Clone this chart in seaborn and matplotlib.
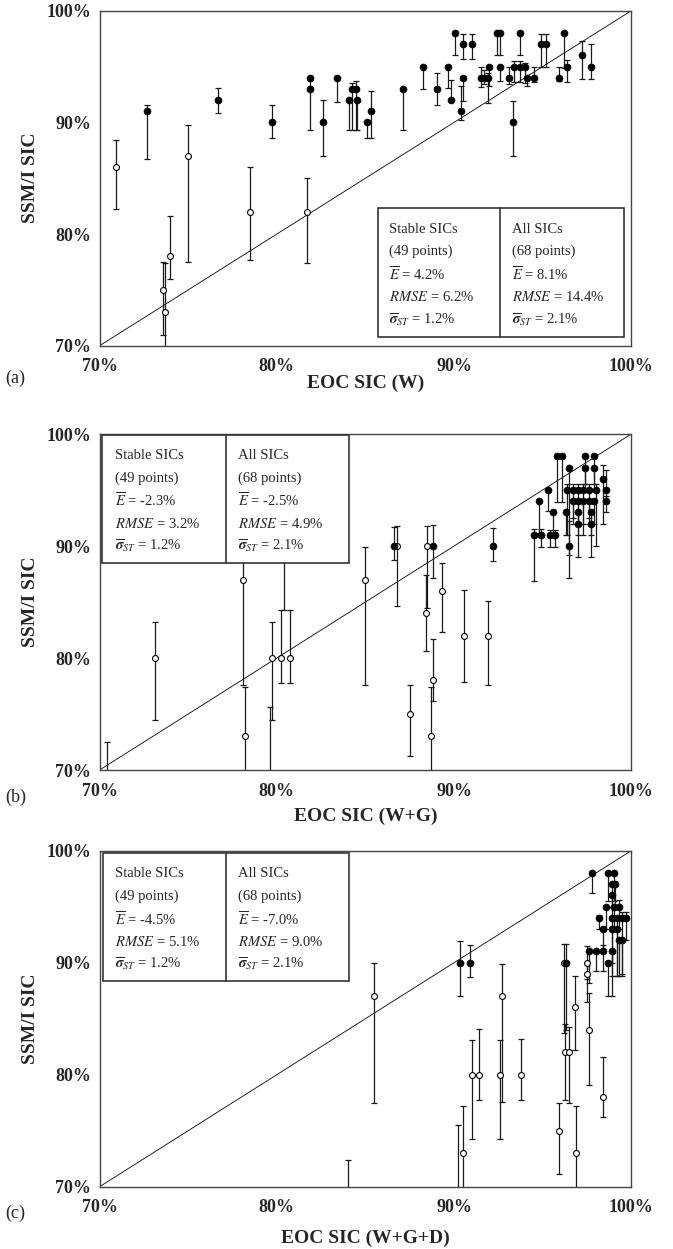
import matplotlib
matplotlib.use("Agg")
import matplotlib.pyplot as plt
from matplotlib.patches import Rectangle
import seaborn as sns
import pandas as pd

# ---- panel (a) : EOC SIC (W) ----
# stable SICs (filled): x, y, lower end of bar, upper end of bar
a_stable_x = [72.7, 76.7, 79.7, 81.9, 81.9, 82.6, 83.4, 84.05, 84.25, 84.45, 84.55, 85.1, 85.3, 87.1,
              88.25, 89.05, 89.65, 89.8, 90.05, 90.4, 90.5, 91.0, 90.5, 91.5, 91.7, 91.9, 92.0, 92.4,
              92.6, 92.6, 93.1, 93.3, 93.4, 93.7, 94.0, 93.7, 94.1, 94.5, 94.9, 95.2, 95.9, 96.2,
              96.4, 97.2, 97.7]
a_stable_y = [91, 92, 90, 93, 94, 90, 94, 92, 93, 93, 92, 90, 91, 93,
              95, 93, 95, 92, 98, 91, 97, 97, 94, 94, 94, 94, 95, 98,
              98, 95, 94, 90, 95, 95, 95, 98, 94, 94, 97, 97, 94, 98,
              95, 96, 95]
a_stable_lo = [86.7, 90.8, 88.6, 89.3, 93.0, 87.0, 91.8, 89.3, 89.3, 89.3, 89.3, 88.6, 88.6, 89.3,
               93.0, 91.6, 93.1, 92.0, 96.0, 90.2, 95.7, 95.7, 91.9, 93.2, 93.4, 91.7, 93.3, 96.0,
               96.0, 93.7, 93.4, 87.0, 93.6, 93.6, 93.5, 96.0, 93.3, 93.6, 95.0, 95.0, 93.7, 94.9,
               93.6, 93.9, 93.9]
a_stable_hi = [91.6, 93.1, 91.6, 93.0, 94.0, 92.0, 94.0, 92.0, 93.5, 93.7, 92.0, 90.0, 92.8, 93.0,
               95.0, 94.4, 95.0, 93.8, 98.0, 93.3, 97.9, 97.9, 94.0, 95.0, 94.7, 94.4, 95.0, 98.0,
               98.0, 95.0, 95.0, 91.9, 95.5, 95.5, 95.3, 98.0, 94.0, 95.0, 97.9, 97.9, 95.0, 98.0,
               95.6, 97.3, 97.0]
# other SICs (open)
a_other_x = [70.9, 75.0, 78.5, 81.7, 74.0, 73.6, 73.7]
a_other_y = [86, 87, 82, 82, 78, 75, 73]
a_other_lo = [82.2, 77.5, 77.7, 77.4, 76.0, 71.0, 66.0]
a_other_hi = [88.4, 89.8, 86.0, 85.0, 81.6, 77.5, 77.4]

# ---- panel (b) : EOC SIC (W+G) ----
b_stable_x = [86.6, 88.8, 92.2, 94.5, 94.9, 95.4, 95.7, 94.8, 95.3, 95.6, 95.8, 96.1, 96.5,
              96.5, 96.4, 96.7, 97.0, 97.3, 97.6, 98.0, 96.7, 97.0, 97.3, 97.6, 97.9, 96.3,
              97.0, 97.7, 97.0, 97.7, 97.4, 97.9, 97.4, 97.9, 98.4, 98.6, 98.6]
b_stable_y = [90, 90, 90, 91, 91, 91, 91, 94, 95, 93, 98, 98, 97,
              90, 95, 95, 95, 95, 95, 95, 94, 94, 94, 94, 94, 93,
              93, 93, 92, 92, 98, 98, 97, 97, 96, 95, 94]
b_stable_lo = [88.75, 87.1, 88.7, 86.9, 89.9, 89.9, 89.9, 91.2, 93.1, 91.0, 93.9, 93.9, 89.2,
               87.1, 91.0, 92.5, 92.0, 91.0, 92.5, 90.0, 92.0, 92.0, 92.0, 92.0, 92.0, 91.0,
               91.0, 91.0, 89.0, 89.0, 95.5, 95.5, 95.0, 95.0, 92.0, 94.0, 93.0]
b_stable_hi = [91.7, 91.9, 91.6, 91.5, 91.5, 91.4, 91.4, 94.0, 95.0, 93.0, 98.0, 98.0, 97.0,
               92.2, 95.5, 95.5, 95.5, 95.5, 95.5, 95.5, 94.0, 94.0, 94.0, 94.0, 94.0, 93.0,
               93.0, 93.0, 92.0, 92.0, 98.0, 98.0, 97.0, 97.0, 97.2, 96.8, 94.5]
b_other_x = [86.8, 88.5, 78.1, 85.0, 88.4, 89.3, 90.55, 91.9, 73.1, 79.7, 80.25, 80.75,
             78.2, 87.5, 88.7, 88.8, 80.4, 70.4, 79.6]
b_other_y = [90, 90, 87, 87, 84, 86, 82, 82, 80, 80, 80, 80,
             73, 75, 73, 78, 94, 65, 65]
b_other_lo = [84.6, 84.5, 77.6, 77.6, 80.6, 82.3, 77.9, 77.6, 74.5, 74.5, 77.8, 77.8,
              66.0, 71.25, 66.0, 76.2, 84.3, 60.0, 60.0]
b_other_hi = [91.8, 91.8, 89.0, 89.9, 87.4, 88.5, 86.1, 85.1, 83.2, 83.2, 84.3, 84.3,
              77.4, 77.6, 77.4, 81.7, 94.0, 72.5, 75.6]

# ---- panel (c) : EOC SIC (W+G+D) ----
c_stable_x = [90.35, 90.9, 96.3, 97.8, 98.7, 99.0, 98.9, 99.1, 98.9, 98.6, 99.0, 99.3, 98.2,
              98.4, 98.9, 99.2, 99.5, 99.7, 98.9, 99.2, 99.5, 99.3, 97.6, 98.0, 98.4, 98.9, 98.7]
c_stable_y = [90, 90, 90, 98, 98, 98, 97, 97, 96, 95, 95, 95, 94,
              93, 94, 94, 94, 94, 93, 93, 92, 92, 91, 91, 91, 91, 90]
c_stable_lo = [87.05, 88.7, 84.0, 96.2, 95.5, 95.5, 95.0, 95.0, 94.0, 93.0, 93.0, 93.0, 93.0,
               91.0, 88.8, 88.8, 89.0, 92.0, 90.0, 88.8, 88.8, 88.8, 88.2, 89.3, 89.3, 87.05, 87.0]
c_stable_hi = [91.9, 91.6, 91.7, 98.0, 98.0, 98.0, 97.0, 97.0, 96.0, 95.0, 95.0, 95.6, 94.3,
               93.0, 94.0, 94.0, 94.5, 94.5, 93.0, 93.0, 92.0, 92.0, 91.0, 91.0, 91.6, 91.0, 90.0]
c_other_x = [85.5, 92.7, 96.2, 97.5, 97.5, 96.8, 97.6, 91.0, 91.4, 92.6, 93.75, 90.5,
             95.9, 96.25, 96.5, 96.9, 98.4, 84.0, 90.2]
c_other_y = [87, 87, 90, 90, 89, 86, 84, 80, 80, 80, 80, 73,
             75, 82, 82, 73, 78, 65, 65]
c_other_lo = [77.5, 77.6, 83.7, 88.5, 86.5, 82.2, 79.1, 74.3, 77.7, 74.3, 77.7, 66.0,
              71.1, 77.7, 77.5, 66.0, 76.2, 60.0, 60.0]
c_other_hi = [90.0, 89.9, 91.7, 91.5, 90.0, 88.8, 87.3, 83.1, 84.1, 83.1, 83.2, 77.2,
              77.45, 84.5, 84.3, 77.2, 81.6, 72.4, 75.5]

ticks = [70, 80, 90, 100]
tick_labels = ["70%", "80%", "90%", "100%"]
x_labels = ["EOC SIC (W)", "EOC SIC (W+G)", "EOC SIC (W+G+D)"]
panel_tags = ["(a)", "(b)", "(c)"]
stable_stats = [("4.2%", "6.2%", "1.2%"), ("-2.3%", "3.2%", "1.2%"), ("-4.5%", "5.1%", "1.2%")]
all_stats = [("8.1%", "14.4%", "2.1%"), ("-2.5%", "4.9%", "2.1%"), ("-7.0%", "9.0%", "2.1%")]

sns.set_style("white")
plt.rcParams['font.family'] = ['Liberation Serif', 'DejaVu Serif']
plt.rcParams['mathtext.fontset'] = 'stix'

fig = plt.figure(figsize=(6.73, 12.49), dpi=100)

# axes boxes [left, bottom, width, height] in figure fraction
boxes = [[0.148, 0.7232, 0.79, 0.2682],
         [0.148, 0.3835, 0.79, 0.2690],
         [0.148, 0.0499, 0.79, 0.2690]]
# stats table: x0, divider, x1, y0, y1, text columns, text rows (axes fraction)
tables = [
    (0.523, 0.753, 0.987, 0.027, 0.410, 0.544, 0.776, [0.348, 0.281, 0.213, 0.145, 0.079]),
    (0.005, 0.238, 0.470, 0.615, 0.997, 0.029, 0.261, [0.935, 0.868, 0.801, 0.732, 0.667]),
    (0.006, 0.238, 0.470, 0.613, 0.994, 0.029, 0.261, [0.933, 0.865, 0.796, 0.729, 0.665]),
]
xlabel_offsets = [-0.085, -0.113, -0.128]
tag_y = [378, 797, 1213]

data = [
    (a_stable_x, a_stable_y, a_stable_lo, a_stable_hi, a_other_x, a_other_y, a_other_lo, a_other_hi),
    (b_stable_x, b_stable_y, b_stable_lo, b_stable_hi, b_other_x, b_other_y, b_other_lo, b_other_hi),
    (c_stable_x, c_stable_y, c_stable_lo, c_stable_hi, c_other_x, c_other_y, c_other_lo, c_other_hi),
]

for i, (sx, sy, slo, shi, ox, oy, olo, ohi) in enumerate(data):
    ax = fig.add_axes(boxes[i])
    df_s = pd.DataFrame({'x': sx, 'y': sy, 'lo': slo, 'hi': shi})
    df_o = pd.DataFrame({'x': ox, 'y': oy, 'lo': olo, 'hi': ohi})

    # one-sided / asymmetric error bars
    for df in (df_o, df_s):
        err = [(df['y'] - df['lo']).clip(lower=0), (df['hi'] - df['y']).clip(lower=0)]
        ax.errorbar(df['x'], df['y'], yerr=err, fmt='none', ecolor='#1a1a1a',
                    elinewidth=0.9, capsize=2.2, capthick=0.9, zorder=2)

    ax.plot([70, 100], [70, 100], color='black', lw=0.6, zorder=1)
    sns.scatterplot(data=df_o, x='x', y='y', ax=ax, marker='o', s=18, color='white',
                    edgecolor='black', linewidth=0.8, zorder=3)
    sns.scatterplot(data=df_s, x='x', y='y', ax=ax, marker='o', s=26, color='black',
                    edgecolor='black', linewidth=0.4, zorder=4)

    ax.set_xlim(70, 100)
    ax.set_ylim(70, 100)
    ax.set_xticks(ticks)
    ax.set_yticks(ticks)
    ax.set_xticklabels(tick_labels, fontweight='bold', fontsize=13)
    ax.set_yticklabels(tick_labels, fontweight='bold', fontsize=13)
    ax.tick_params(axis='x', direction='in', length=4, color='#555', pad=9)
    ax.tick_params(axis='y', direction='out', length=3, color='#999', pad=3)
    for sp in ax.spines.values():
        sp.set_color('#444')
        sp.set_linewidth(1.0)

    ax.set_xlabel(x_labels[i], fontweight='bold', fontsize=14)
    ax.xaxis.set_label_coords(0.5, xlabel_offsets[i])
    ax.set_ylabel("SSM/I SIC", fontweight='bold', fontsize=14)
    ax.yaxis.set_label_coords(-0.114, 0.5)

    # stats table
    x0, xd, x1, y0, y1, tx1, tx2, rows = tables[i]
    ax.add_patch(Rectangle((x0, y0), x1 - x0, y1 - y0, transform=ax.transAxes,
                           facecolor='white', edgecolor='#333', lw=1.2, zorder=6))
    ax.plot([xd, xd], [y0, y1], transform=ax.transAxes, color='#333', lw=1.2, zorder=7)
    for tx, head, npts, st in ((tx1, "Stable SICs", "(49 points)", stable_stats[i]),
                               (tx2, "All SICs", "(68 points)", all_stats[i])):
        lines = [head, npts,
                 r"$\overline{E}$ = " + st[0],
                 r"$RMSE$ = " + st[1],
                 r"$\overline{\boldsymbol{\sigma}}_{ST}$ = " + st[2]]
        for r, line in zip(rows, lines):
            ax.text(tx, r, line, transform=ax.transAxes, fontsize=10.5, va='center',
                    ha='left', zorder=8)

    fig.text(5 / 673, 1 - tag_y[i] / 1249, panel_tags[i], fontsize=13, va='center', ha='left')

fig.savefig("out.png", dpi=100)
